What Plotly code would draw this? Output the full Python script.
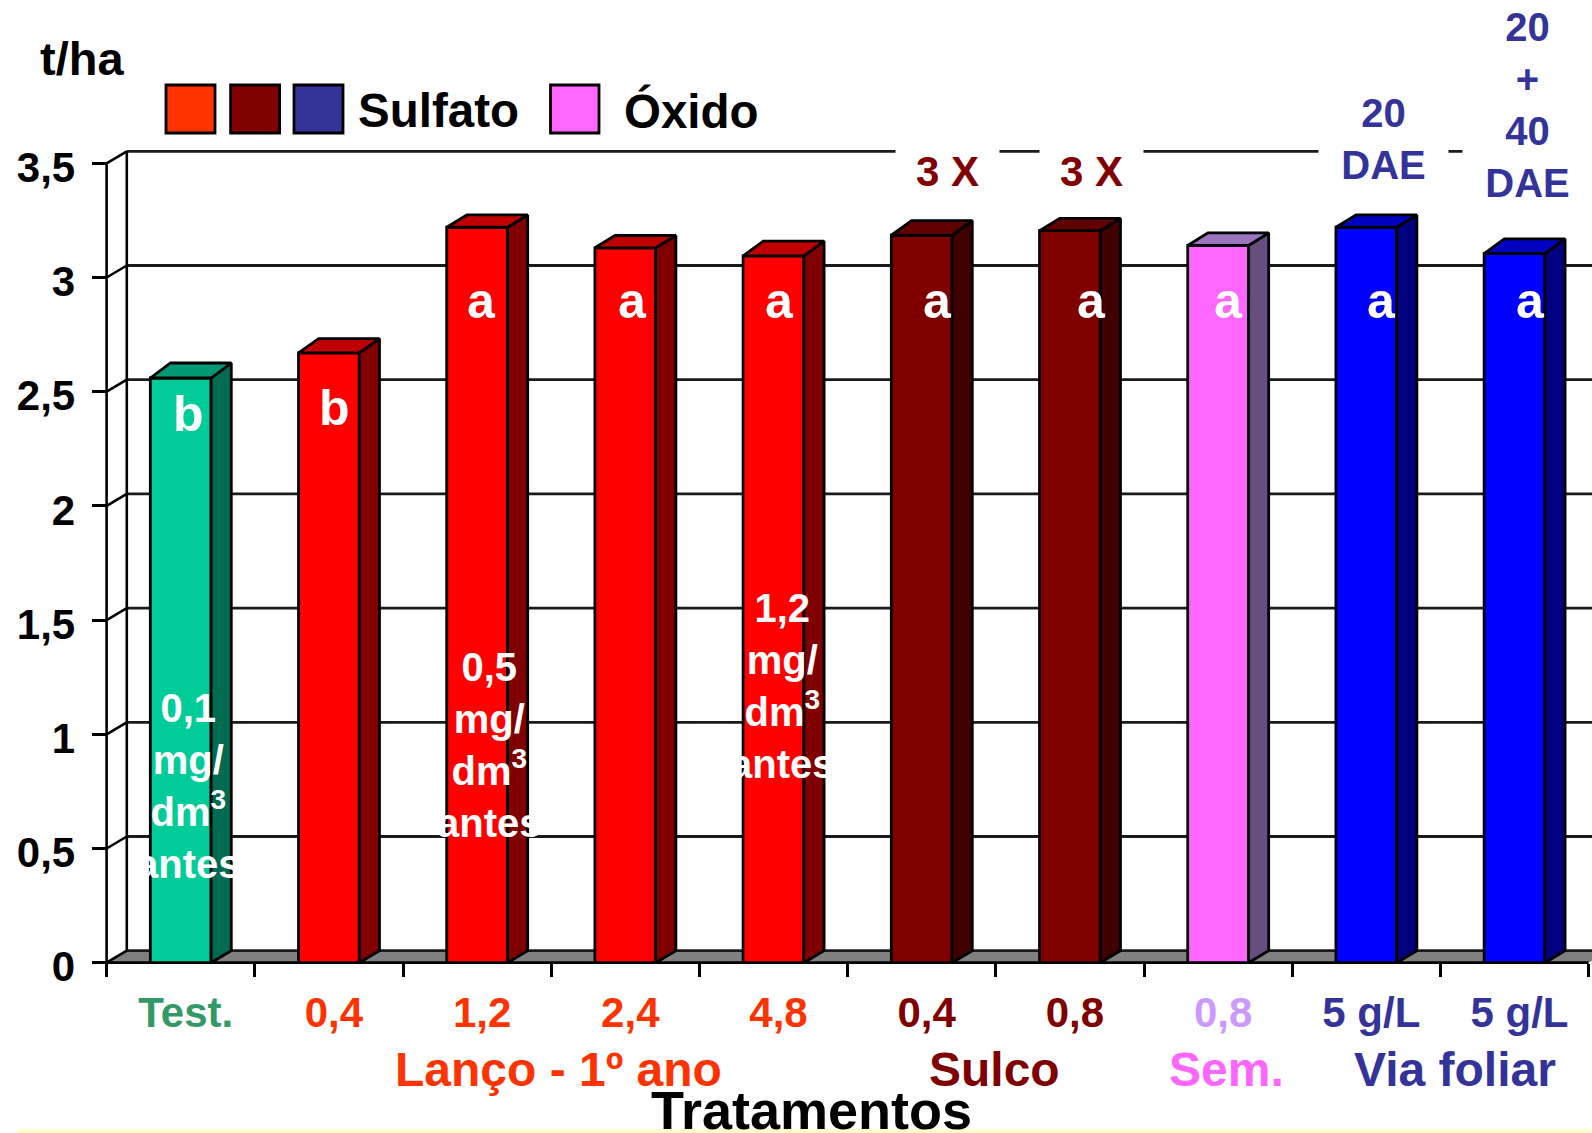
import plotly.graph_objects as go

# ---- data ----
categories = ["Test.", "0,4", "1,2", "2,4", "4,8", "0,4", "0,8", "0,8", "5 g/L", "5 g/L"]
values = [2.56, 2.67, 3.22, 3.13, 3.095, 3.185, 3.205, 3.14, 3.22, 3.105]
letters = ["b", "b", "a", "a", "a", "a", "a", "a", "a", "a"]
front_colors = ["#00CC99", "#FF0000", "#FF0000", "#FF0000", "#FF0000", "#800000", "#800000", "#FF66FF", "#0000FF", "#0000FF"]
side_colors = ["#006B50", "#800000", "#800000", "#800000", "#800000", "#400000", "#400000", "#664E80", "#000080", "#000080"]
top_colors = ["#009973", "#C00000", "#C00000", "#C00000", "#C00000", "#600000", "#600000", "#9C75BF", "#0000C0", "#0000C0"]
label_colors = ["#339966", "#FF3300", "#FF3300", "#FF3300", "#FF3300", "#800000", "#800000", "#CC99FF", "#333399", "#333399"]
y_ticks = [0, 0.5, 1, 1.5, 2, 2.5, 3, 3.5]
y_ticktext = ["0", "0,5", "1", "1,5", "2", "2,5", "3", "3,5"]
FONT = "Liberation Sans"

# ---- page geometry (pixels) ----
W, H = 1592, 1133
X0, Y0 = 106.6, 962.7      # front origin
CAT, UNIT = 148.2, 228.4   # px per category / per y unit
DX, DY = 20.2 / CAT, 12.0 / UNIT
top_depth_px = [15, 14.3, 12.3, 12.3, 14.7, 14.7, 12.3, 12.7, 12.3, 14.7]
BAR = 0.41
LW = 2.8
xr = [-0.5 - X0 / CAT, -0.5 + (W - X0) / CAT]
yr = [-(H - Y0) / UNIT, Y0 / UNIT]
n = len(categories)
px = lambda v: v / W
py = lambda v: 1 - v / H

fig = go.Figure()

# front faces
fig.add_trace(go.Bar(x=list(range(n)), y=values, width=BAR,
                     marker=dict(color=front_colors, line=dict(color="black", width=LW)),
                     hoverinfo="skip", showlegend=False))
# side and top faces
for i, v in enumerate(values):
    l, r = i - BAR / 2, i + BAR / 2
    d = top_depth_px[i] / UNIT
    fig.add_trace(go.Scatter(x=[r, r + DX, r + DX, r, r], y=[0, DY, v + d, v, 0], mode="lines", fill="toself",
                             fillcolor=side_colors[i], line=dict(color="black", width=LW),
                             hoverinfo="skip", showlegend=False))
    fig.add_trace(go.Scatter(x=[l, l + DX, r + DX, r, l], y=[v, v + d, v + d, v, v], mode="lines", fill="toself",
                             fillcolor=top_colors[i], line=dict(color="black", width=LW),
                             hoverinfo="skip", showlegend=False))

shapes = []
LEFT = -0.5
RIGHT = n - 0.5
# floor
shapes.append(dict(type="path", layer="below", xref="x", yref="y",
                   path=f"M {LEFT} 0 L {LEFT+DX} {DY} L {RIGHT+DX} {DY} L {RIGHT} 0 Z",
                   fillcolor="#808080", line=dict(width=0)))
# walls and gridlines
for t in y_ticks:
    shapes.append(dict(type="line", layer="below", xref="x", yref="y", x0=LEFT, y0=t, x1=LEFT + DX, y1=t + DY,
                       line=dict(color="black", width=2.6)))
    shapes.append(dict(type="line", layer="below", xref="x", yref="y", x0=LEFT + DX, y0=t + DY, x1=RIGHT + DX, y1=t + DY,
                       line=dict(color="#1a1a1a", width=2.8)))
shapes.append(dict(type="line", layer="below", xref="x", yref="y", x0=LEFT, y0=0, x1=LEFT, y1=3.5,
                   line=dict(color="black", width=2.6)))
shapes.append(dict(type="line", layer="below", xref="x", yref="y", x0=LEFT + DX, y0=DY, x1=LEFT + DX, y1=3.5 + DY,
                   line=dict(color="black", width=2.6)))
# front edge of the floor
shapes.append(dict(type="line", layer="below", xref="x", yref="y", x0=LEFT, y0=0, x1=RIGHT, y1=0,
                   line=dict(color="black", width=2.8)))
# legend swatches
for (a, b, c) in [(166, 215, "#FF3300"), (230.6, 279.6, "#800000"), (294, 343, "#333399"), (550.5, 599, "#FF66FF")]:
    shapes.append(dict(type="rect", xref="paper", yref="paper", x0=px(a), x1=px(b), y0=py(133), y1=py(85),
                       fillcolor=c, line=dict(color="black", width=2.8)))
# pale band at bottom of page
shapes.append(dict(type="rect", xref="paper", yref="paper", x0=px(18), x1=1, y0=py(1133), y1=py(1129),
                   fillcolor="#FFFFCC", line=dict(width=0)))

anns = []
def note(text, x, y, size=42, color="black", xanchor="center", width=None, bg=None):
    d = dict(text=text, xref="paper", yref="paper", x=px(x), y=py(y), xanchor=xanchor, yanchor="middle",
             showarrow=False, align="center", font=dict(family=FONT, size=size, color=color), borderpad=0)
    if width:
        d["width"] = width
    if bg:
        d["bgcolor"] = bg
    anns.append(d)

note("<b>t/ha</b>", 82, 58, 47)
note("<b>Sulfato</b>", 357, 110.7, 47.5, xanchor="left")
note("<b>Óxido</b>", 623, 110.7, 47.5, xanchor="left")

# letters on bars
letter_x = [188, 334, 481, 632.5, 779, 937, 1091.5, 1228.5, 1381, 1530]
letter_y = [414, 408, 301, 301, 301, 301, 301, 301, 301, 301]
for t, a, b in zip(letters, letter_x, letter_y):
    note(f"<b>{t}</b>", a, b, 50, "white")

# doses written on bars
dose = "<b>{}<br>mg/<br>dm<sup>3</sup><br>antes</b>"
for t, a, b in [("0,1", 188, 786), ("0,5", 489, 745), ("1,2", 782, 686)]:
    note(dose.format(t), a, b, 40, "white")

# labels above the bars, masking the top wall line
note("<b>3 X</b>", 947.5, 172, 42, "#800000", width=103, bg="white")
note("<b>3 X</b>", 1091.5, 172, 42, "#800000", width=103, bg="white")
note("<b>20<br>DAE</b>", 1383.5, 139, 40, "#333399", width=129, bg="white")
note("<b>20<br>+<br>40<br>DAE</b>", 1527, 105, 40, "#333399", width=129, bg="white")

# group labels
note("<b>Lanço - 1º ano</b>", 558, 1069, 48, "#FF3300")
note("<b>Sulco</b>", 994, 1069, 48, "#800000")
note("<b>Sem.</b>", 1226, 1069, 48, "#FF66FF")
note("<b>Via foliar</b>", 1455, 1069, 48, "#333399")
note("<b>Tratamentos</b>", 811, 1110, 54)

fig.update_layout(
    width=W, height=H, margin=dict(l=0, r=0, t=0, b=0, pad=0, autoexpand=False),
    paper_bgcolor="white", plot_bgcolor="rgba(0,0,0,0)", showlegend=False,
    shapes=shapes, annotations=anns,
    xaxis=dict(range=xr, domain=[0, 1], anchor="free", position=py(Y0), showgrid=False, zeroline=False,
               showline=False,
               tickmode="array", tickvals=list(range(n)),
               ticktext=[f'<span style="color:{c}"><b>{t}</b></span>' for t, c in zip(categories, label_colors)],
               tickfont=dict(family=FONT, size=42), ticks="", tickangle=0,
               ticklabelstandoff=21, ticklabelshift=5,
               minor=dict(tickmode="array", tickvals=[i - 0.5 for i in range(n + 1)], ticks="outside",
                          ticklen=13, tickwidth=2.6, tickcolor="black", showgrid=False)),
    yaxis=dict(range=yr, domain=[0, 1], anchor="free", position=px(X0), showgrid=False, zeroline=False,
               showline=False, tickmode="array", tickvals=y_ticks,
               ticktext=[f"<b>{t}</b>" for t in y_ticktext],
               tickfont=dict(family=FONT, size=42, color="black"), ticks="outside", ticklen=15, tickwidth=2.6,
               tickcolor="black", ticklabelstandoff=8, ticklabelshift=4),
)
fig.write_html("out.html", config=dict(displayModeBar=False),
               post_script="document.body.style.margin='0';document.body.style.overflow='hidden';window.dispatchEvent(new Event('resize'));")
